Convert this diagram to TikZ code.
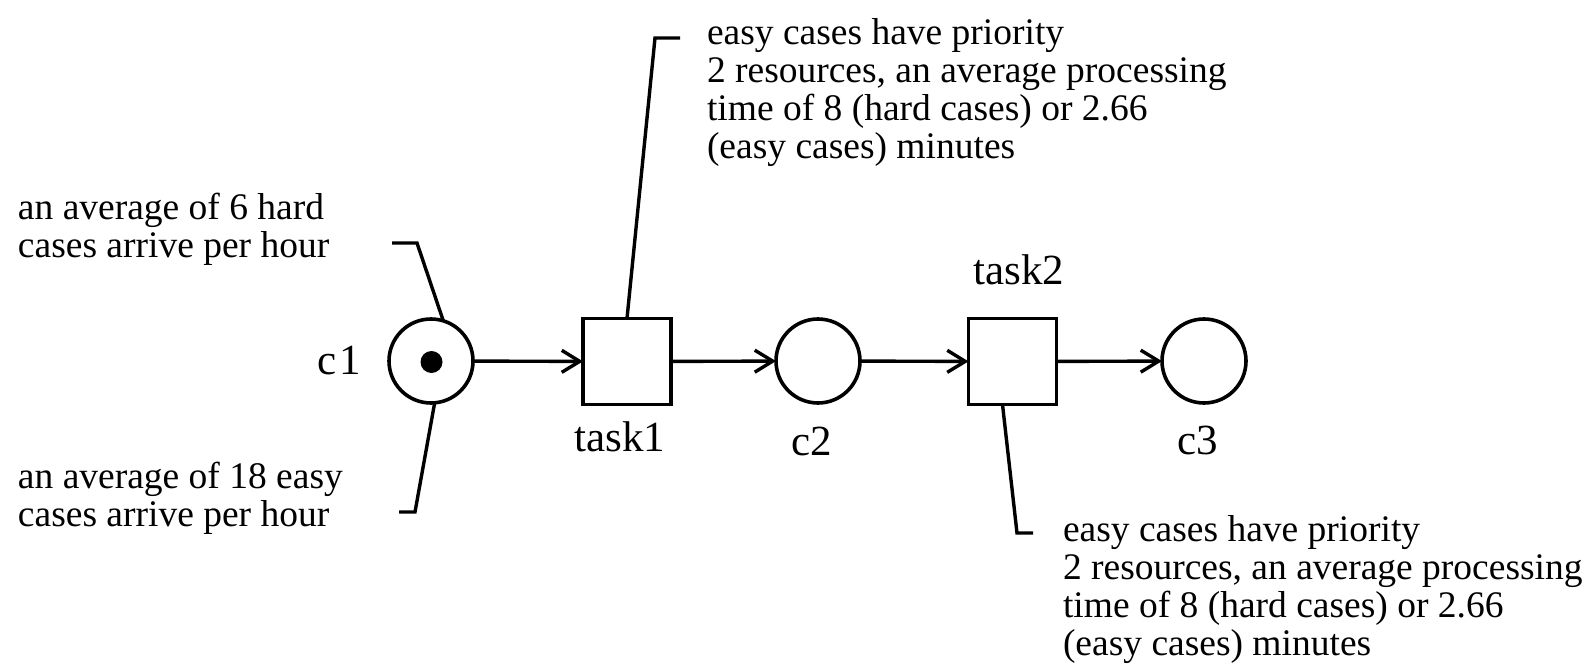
\documentclass[tikz,border=0pt]{standalone}
\usepackage{fontspec}
\setmainfont{Liberation Serif}
\usetikzlibrary{arrows.meta}
\begin{document}
\begin{tikzpicture}[x=0.5pt,y=-0.5pt,
  every node/.style={inner sep=0pt, outer sep=0pt},
  place/.style={circle, draw, line width=1.8pt, minimum size=42pt},
  trans/.style={rectangle, draw, line width=1.8pt, minimum width=44pt, minimum height=43pt},
  arc/.style={line width=1.7pt, -{Straight Barb[length=9pt,width=11pt,line width=1.7pt]}},
  callout/.style={line width=1.7pt},
  lbl/.style={font=\fontsize{21.5}{24}\selectfont, anchor=base},
  note/.style={font=\fontsize{18.75}{19}\selectfont, anchor=base west},
]
\useasboundingbox (0,0) rectangle (1596,668);
% places and transitions
\node[place] (c1) at (431,361) {};
\node[circle, fill, minimum size=11pt] (tok) at (431.5,362) {};
\node[trans] (t1) at (627,361.5) {};
\node[place] (c2) at (818,361) {};
\node[trans] (t2) at (1012.5,361.5) {};
\node[place] (c3) at (1204,361) {};
% arcs
\draw[arc] (c1) -- (t1);
\draw[arc] (t1) -- (c2);
\draw[arc] (c2) -- (t2);
\draw[arc] (t2) -- (c3);
% labels
\node[lbl] (lc1) at (339,374) {c\kern1.5pt 1};
\node[lbl] (lt1) at (620,451) {task1};
\node[lbl] (lc2) at (812,455) {c2};
\node[lbl] (lt2) at (1019,285) {task2};
\node[lbl] (lc3) at (1198,454) {c3};
% notes
\node[note] (n1) at (18,220) {\begin{tabular}[t]{@{}l@{}}an average of 6 hard\\cases arrive per hour\end{tabular}};
\node[note] (n2) at (18,488) {\begin{tabular}[t]{@{}l@{}}an average of 18 easy\\cases arrive per hour\end{tabular}};
\node[note] (n3) at (707,45) {\begin{tabular}[t]{@{}l@{}}easy cases have priority\\2 resources, an average processing\\time of 8 (hard cases) or 2.66\\(easy cases) minutes\end{tabular}};
\node[note] (n4) at (1063,541) {\begin{tabular}[t]{@{}l@{}}easy cases have priority\\2 resources, an average processing\\time of 8 (hard cases) or 2.66\\(easy cases) minutes\end{tabular}};
% callout lines
\coordinate (k1a) at (392,243);
\coordinate (k1b) at (417,243);
\coordinate (k2a) at (399,512);
\coordinate (k2b) at (415,512);
\coordinate (k3a) at (680,38);
\coordinate (k3b) at (655,38);
\coordinate (k4a) at (1033,533);
\coordinate (k4b) at (1017,533);
\draw[callout] (k1a) -- (k1b) -- (c1.73);
\draw[callout] (c1.-85) -- (k2b) -- (k2a);
\draw[callout] (t1.north) -- (k3b) -- (k3a);
\draw[callout] ([xshift=-5pt]t2.south) -- (k4b) -- (k4a);
\end{tikzpicture}
\end{document}
